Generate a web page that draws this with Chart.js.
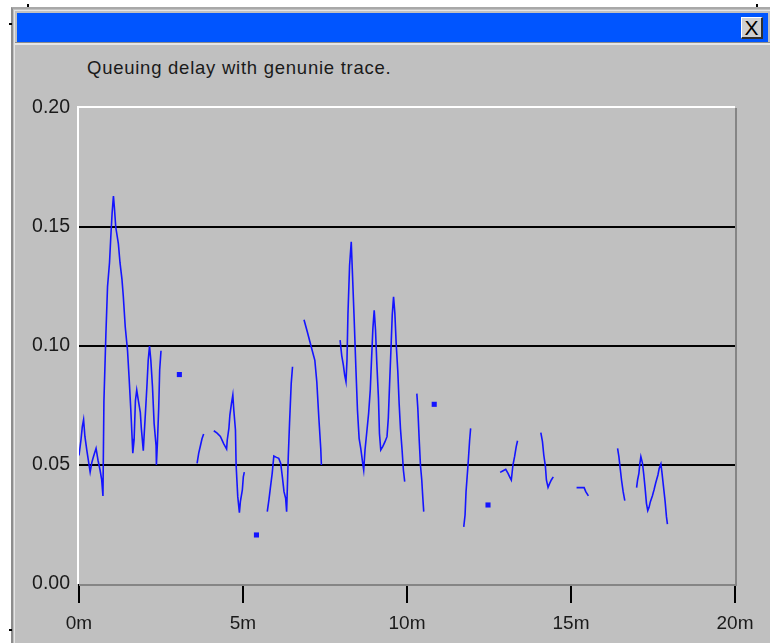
<!DOCTYPE html>
<html>
<head>
<meta charset="utf-8">
<script src="https://cdn.jsdelivr.net/npm/chart.js@4/dist/chart.umd.min.js"></script>
<style>
  html, body { margin: 0; padding: 0; background: #fff; }
  #page { position: relative; width: 770px; height: 643px; overflow: hidden; font-family: "Liberation Sans", Arial, sans-serif; }
  #frame { position: absolute; left: 11px; top: 7px; width: 770px; height: 650px; background: #c0c0c0;
           border-left: 2px solid #8c8c8c; border-top: 2px solid #a8a8a8; box-sizing: border-box; }
  #frame2 { position: absolute; left: 14px; top: 10px; width: 760px; height: 640px; border-left: 1px solid #e4e4e4; border-top: 1px solid #e4e4e4; }
  #titlebar { position: absolute; left: 17px; top: 13px; width: 751px; height: 29px; background: #0055ff; }
  #sep { position: absolute; left: 15px; top: 42px; width: 755px; height: 1px; background: #8c8c8c; }
  #sep2 { position: absolute; left: 15px; top: 43px; width: 755px; height: 2px; background: #e6e6e6; }
  #close { position: absolute; left: 741px; top: 17px; width: 22px; height: 22px; box-sizing: border-box; background: #d0d0d0;
           border-top: 1px solid #fff; border-left: 1px solid #fff; border-right: 2px solid #303030; border-bottom: 2px solid #303030;
           font-size: 21px; line-height: 19px; text-align: center; color: #000; }
  #title { position: absolute; left: 87px; top: 57px; font-size: 18.5px; letter-spacing: 0.75px; color: #1a1a1a; white-space: nowrap; }
  .mark { position: absolute; background: #000; }
  #wrap { position: absolute; left: 0; top: 0; width: 770px; height: 643px; }
</style>
</head>
<body>
<div id="page">
  <div class="mark" style="left:27px;top:4px;width:2px;height:4px"></div>
  <div class="mark" style="left:756px;top:4px;width:2px;height:4px"></div>
  <div id="frame"></div>
  <div id="frame2"></div>
  <div class="mark" style="left:9px;top:23px;width:3px;height:2px"></div>
  <div class="mark" style="left:9px;top:629px;width:3px;height:2px"></div>
  <div id="titlebar"></div>
  <div id="close">X</div>
  <div id="sep"></div>
  <div id="sep2"></div>
  <div id="title">Queuing delay with genunie trace.</div>
  <div id="wrap"><canvas id="myChart"></canvas></div>
</div>
<script>
const ctx = document.getElementById('myChart');

// time in minutes, null delay = gap in the trace
const timeMin = [
  0.00, 0.06, 0.10, 0.14, 0.18, 0.24, 0.34, 0.39, 0.44, 0.52, 0.58, 0.64, 0.69, 0.73,
  0.76, 0.82, 0.87, 0.93, 0.97, 1.01, 1.05, 1.08, 1.12, 1.20, 1.25, 1.31, 1.35, 1.41,
  1.48, 1.53, 1.58, 1.62, 1.64, 1.68, 1.72, 1.76, 1.81, 1.87, 1.90, 1.96, 1.99, 2.03,
  2.07, 2.11, 2.15, 2.19, 2.24, 2.29, 2.35, 2.36, 2.39, 2.43, 2.46, 2.50,
  2.80, 3.06, 3.30,
  3.60, 3.65, 3.70, 3.75, 3.80,
  3.90,
  4.11, 4.21, 4.31, 4.41, 4.50, 4.52, 4.57, 4.60, 4.65, 4.69, 4.72, 4.77, 4.79, 4.84,
  4.89, 4.92, 4.98, 5.01, 5.04,
  5.20, 5.41, 5.60,
  5.74, 5.79, 5.84, 5.89, 5.94, 6.02, 6.09, 6.15, 6.20, 6.25, 6.30, 6.33, 6.35, 6.38,
  6.42, 6.47, 6.51,
  6.70,
  6.86, 6.96, 7.04, 7.12, 7.19, 7.25, 7.31, 7.37, 7.39,
  7.60,
  7.96, 8.01, 8.06, 8.10, 8.14, 8.17, 8.20, 8.25, 8.30, 8.33, 8.39, 8.44, 8.49, 8.54,
  8.59, 8.65, 8.68, 8.72, 8.78, 8.83, 8.88, 8.92, 8.96, 9.00, 9.04, 9.08, 9.13, 9.16,
  9.20, 9.26, 9.33, 9.39, 9.43, 9.47, 9.51, 9.55, 9.59, 9.63, 9.67, 9.72, 9.76, 9.80,
  9.85, 9.89, 9.93,
  10.10,
  10.30, 10.33, 10.37, 10.41, 10.45, 10.48, 10.51,
  10.70, 10.83, 11.20,
  11.73, 11.77, 11.80, 11.86, 11.91, 11.94,
  12.20, 12.47, 12.60,
  12.84, 12.93, 13.01, 13.08, 13.13, 13.18, 13.23, 13.28, 13.33, 13.37,
  13.70,
  14.08, 14.13, 14.17, 14.22, 14.25, 14.30, 14.35, 14.40, 14.46,
  14.90,
  15.17, 15.32, 15.40, 15.45, 15.53,
  16.00,
  16.42, 16.46, 16.50, 16.54, 16.59, 16.64,
  16.80,
  17.00, 17.03, 17.07, 17.10, 17.13, 17.18, 17.22, 17.26, 17.30, 17.34, 17.38, 17.42,
  17.48, 17.53, 17.58, 17.65, 17.69, 17.74, 17.77, 17.82, 17.87, 17.91, 17.94
];

// queuing delay in seconds
const delay = [
  0.054, 0.0605, 0.066, 0.069, 0.062, 0.056, 0.047, 0.051, 0.0535, 0.057, 0.052, 0.048, 0.044, 0.037,
  0.077, 0.105, 0.125, 0.135, 0.146, 0.156, 0.163, 0.158, 0.150, 0.143, 0.135, 0.128, 0.121, 0.108,
  0.098, 0.086, 0.073, 0.061, 0.055, 0.0605, 0.077, 0.0815, 0.077, 0.072, 0.0655, 0.056, 0.0635, 0.073,
  0.083, 0.094, 0.100, 0.094, 0.083, 0.0675, 0.058, 0.050, 0.059, 0.074, 0.090, 0.098,
  null, 0.088, null,
  0.0507, 0.055, 0.058, 0.061, 0.063,
  null,
  0.0644, 0.0634, 0.062, 0.059, 0.0567, 0.0605, 0.0654, 0.071, 0.076, 0.0794, 0.073, 0.0647, 0.050, 0.0367,
  0.030, 0.0346, 0.0395, 0.045, 0.047,
  null, 0.0206, null,
  0.0304, 0.0353, 0.041, 0.0465, 0.0538, 0.0532, 0.0528, 0.0507, 0.045, 0.0388, 0.036, 0.0304, 0.0395, 0.0535,
  0.068, 0.0843, 0.0913,
  null,
  0.111, 0.106, 0.1018, 0.0976, 0.094, 0.085, 0.0703, 0.057, 0.050,
  null,
  0.1025, 0.096, 0.092, 0.0878, 0.085, 0.094, 0.1137, 0.134, 0.1438, 0.133, 0.111, 0.0913, 0.073, 0.0612,
  0.057, 0.0507, 0.0479, 0.0563, 0.0647, 0.0717, 0.0815, 0.0948, 0.1074, 0.115, 0.1067, 0.0927, 0.078, 0.0633,
  0.0563, 0.0577, 0.0598, 0.0619, 0.0696, 0.0843, 0.0983, 0.113, 0.1207, 0.1137, 0.101, 0.0892, 0.0759, 0.0654,
  0.0563, 0.0479, 0.043,
  null,
  0.080, 0.0738, 0.0612, 0.050, 0.0437, 0.0367, 0.0304,
  null, 0.0755, null,
  0.024, 0.029, 0.0388, 0.050, 0.0605, 0.0654,
  null, 0.0332, null,
  0.0469, 0.0476, 0.0482, 0.0465, 0.045, 0.0437, 0.050, 0.0535, 0.0577, 0.0602,
  null,
  0.0636, 0.0598, 0.0542, 0.0493, 0.0437, 0.0406, 0.0423, 0.0437, 0.045,
  null,
  0.0405, 0.0405, 0.0405, 0.0388, 0.037,
  null,
  0.057, 0.0535, 0.0486, 0.0437, 0.0388, 0.035,
  null,
  0.0405, 0.0437, 0.0465, 0.0507, 0.0535, 0.0507, 0.0458, 0.0402, 0.0339, 0.0308, 0.0322, 0.0346,
  0.037, 0.0395, 0.0423, 0.0458, 0.0486, 0.0504, 0.0472, 0.0409, 0.0346, 0.0283, 0.0252
];

const yTicks = [0, 0.05, 0.10, 0.15, 0.20];
const xTicks = [0, 5, 10, 15, 20];

const lineColor = '#1414ff';
const fontFam = '"Liberation Sans", Arial, sans-serif';

// lone samples (gap on both sides) are drawn as small squares
function loneRadius(c) {
  const i = c.dataIndex;
  if (delay[i] === null) return 0;
  return (delay[i - 1] == null && delay[i + 1] == null) ? 3.6 : 0;
}

const plotFrame = {
  id: 'plotFrame',
  beforeDatasetsDraw(chart) {
    const a = chart.chartArea;
    const g = chart.ctx;
    g.save();
    g.lineWidth = 2;
    g.strokeStyle = '#ffffff';
    g.beginPath();
    g.moveTo(a.left - 1, a.bottom);
    g.lineTo(a.left - 1, a.top - 1);
    g.lineTo(a.right, a.top - 1);
    g.stroke();
    g.strokeStyle = '#858585';
    g.beginPath();
    g.moveTo(a.left, a.bottom + 1);
    g.lineTo(a.right + 1, a.bottom + 1);
    g.lineTo(a.right + 1, a.top);
    g.stroke();
    g.restore();
  }
};

new Chart(ctx, {
  type: 'line',
  data: {
    datasets: [{
      label: 'Queuing delay',
      data: timeMin.map((t, i) => ({ x: t, y: delay[i] })),
      borderColor: lineColor,
      backgroundColor: lineColor,
      borderWidth: 1.6,
      spanGaps: false,
      tension: 0,
      pointStyle: 'rect',
      pointRadius: loneRadius,
      pointBorderWidth: 0,
      pointHoverRadius: 0
    }]
  },
  options: {
    responsive: true,
    maintainAspectRatio: false,
    animation: false,
    events: [],
    layout: { padding: { left: 20, top: 108, right: 35, bottom: 0 } },
    plugins: {
      legend: { display: false },
      tooltip: { enabled: false }
    },
    scales: {
      x: {
        type: 'linear',
        min: 0,
        max: 20,
        afterFit: s => { s.height = 59; },
        afterBuildTicks: s => { s.ticks = xTicks.map(v => ({ value: v })); },
        ticks: {
          callback: v => v + 'm',
          color: '#1a1a1a',
          font: { family: fontFam, size: 19 },
          padding: 9,
          maxRotation: 0
        },
        grid: { drawOnChartArea: false, drawTicks: true, tickLength: 19, color: '#000', lineWidth: 2 },
        border: { display: false }
      },
      y: {
        min: 0,
        max: 0.2,
        afterFit: s => { s.width = 59; },
        afterBuildTicks: s => { s.ticks = yTicks.map(v => ({ value: v })); },
        ticks: {
          callback: v => v.toFixed(2),
          color: '#1a1a1a',
          font: { family: fontFam, size: 19.5 },
          padding: 9
        },
        grid: {
          drawTicks: false,
          lineWidth: 2,
          color: c => (c.tick && c.tick.value > 0.001 && c.tick.value < 0.199) ? '#000' : 'rgba(0,0,0,0)'
        },
        border: { display: false }
      }
    }
  },
  plugins: [plotFrame]
});
</script>
</body>
</html>
